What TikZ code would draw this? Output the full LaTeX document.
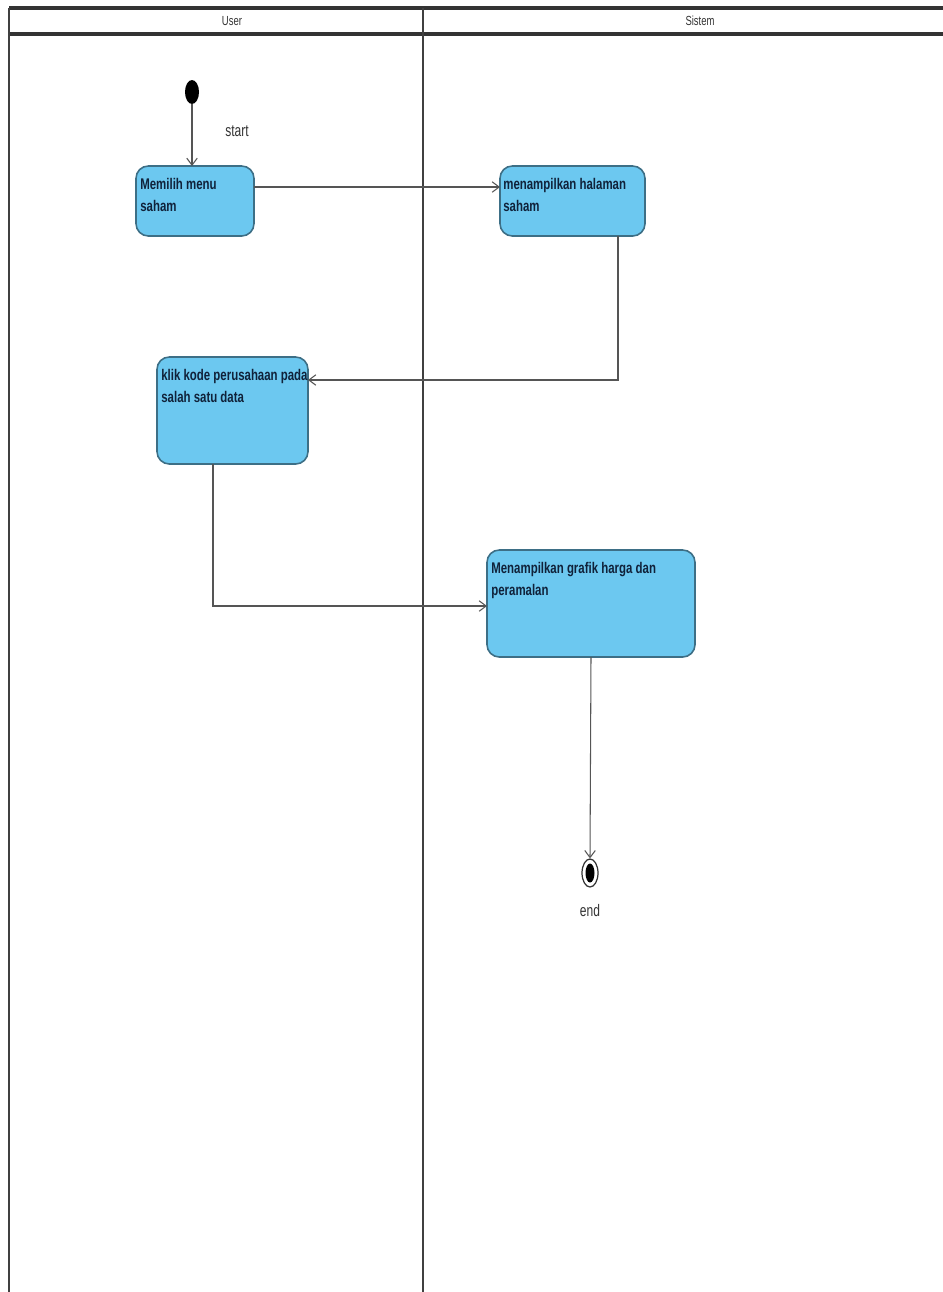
\documentclass[tikz,border=0pt]{standalone}
\usepackage{fontspec}
\setmainfont{Liberation Sans}
\newfontfamily\narrowbold[FakeStretch=0.74]{Liberation Sans Bold}
\newfontfamily\narrowreg[FakeStretch=0.72]{Liberation Sans}
\usetikzlibrary{arrows.meta,shapes.geometric}
\definecolor{actfill}{HTML}{6CC8F0}
\definecolor{actdraw}{HTML}{3D6F86}
\definecolor{acttext}{HTML}{10223A}
\definecolor{linegray}{HTML}{555555}
\tikzset{
  actbox/.style={draw=actdraw, line width=0.9pt, fill=actfill, rounded corners=7pt, inner sep=0pt},
  acttxt/.style={anchor=north west, align=left, text=acttext, font=\narrowbold\fontsize{8.8}{12.5}\selectfont, inner sep=0pt},
  flow/.style={draw=linegray, line width=0.6pt, -{Straight Barb[length=4pt,width=6pt]}},
  lane/.style={draw=black!75, line width=0.9pt},
  hdr/.style={draw=black!80, line width=1.8pt},
  lbl/.style={font=\narrowreg\fontsize{7.5}{9}\selectfont, text=black!80}
}
\begin{document}
\begin{tikzpicture}[x=0.02cm,y=-0.02cm]
\useasboundingbox (0,0) rectangle (943,1292);
% swimlanes
\draw[hdr] (9,8) -- (943,8);
\draw[hdr] (9,34) -- (943,34);
\draw[lane] (9,8) -- (9,1292);
\draw[lane] (423,8) -- (423,1292);
\node[lbl] (hu) at (232,21) {User};
\node[lbl] (hs) at (700,21) {Sistem};
% initial node
\node[fill=black, draw=none, ellipse, minimum width=14*0.02cm, minimum height=24*0.02cm, inner sep=0pt] (init) at (192,92) {};
\node[lbl, font=\narrowreg\fontsize{9.5}{11}\selectfont] (startlbl) at (237,131) {start};
% activities
\path[actbox] (136,166) rectangle (254,236);
\node[acttxt] (t1) at (140,178) {Memilih menu\\saham};
\path[actbox] (500,166) rectangle (645,236);
\node[acttxt] (t2) at (503,178) {menampilkan halaman\\saham};
\path[actbox] (157,357) rectangle (308,464);
\node[acttxt] (t3) at (161,369) {klik kode perusahaan pada\\salah satu data};
\path[actbox] (487,550) rectangle (695,657);
\node[acttxt] (t4) at (491,562) {Menampilkan grafik harga dan\\peramalan};
% named anchors
\coordinate (b1top) at (192,166);
\coordinate (b1r) at (254,187);
\coordinate (b2l) at (500,187);
\coordinate (b2b) at (618,236);
\coordinate (b3r) at (308,380);
\coordinate (b3b) at (213,464);
\coordinate (b4l) at (487,606);
\coordinate (b4b) at (591,657);
% final node
\node[draw=black!80, line width=0.7pt, ellipse, minimum width=16*0.02cm, minimum height=28*0.02cm, inner sep=0pt] (fin) at (590,873) {};
\node[fill=black, ellipse, minimum width=9*0.02cm, minimum height=19*0.02cm, inner sep=0pt] (fincore) at (590,873) {};
\node[lbl, font=\narrowreg\fontsize{9.5}{11}\selectfont] (endlbl) at (590,911) {end};
% flows
\draw[flow] (init) -- (b1top);
\draw[flow] (b1r) -- (b2l);
\draw[flow] (b2b) |- (b3r);
\draw[flow] (b3b) |- (b4l);
\draw[flow] (b4b) -- (fin.north);
\end{tikzpicture}
\end{document}
